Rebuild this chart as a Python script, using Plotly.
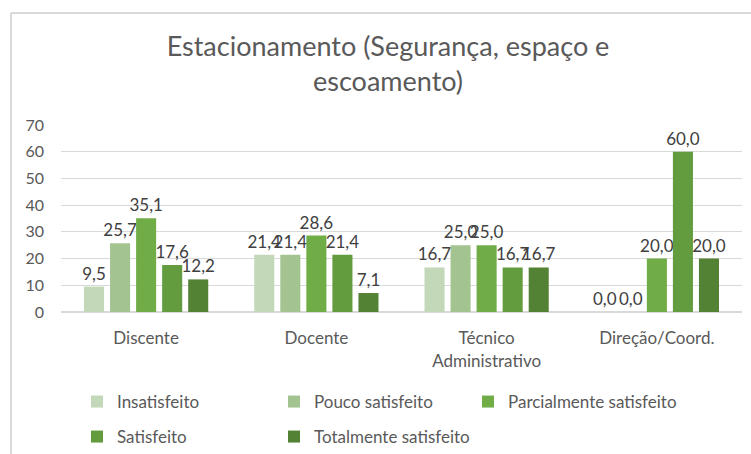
import plotly.graph_objects as go

categories = ["Discente", "Docente", "Técnico<br>Administrativo", "Direção/Coord."]
series_names = ["Insatisfeito", "Pouco satisfeito", "Parcialmente satisfeito",
                "Satisfeito", "Totalmente satisfeito"]
insatisfeito = [9.5, 21.4, 16.7, 0.0]
pouco = [25.7, 21.4, 25.0, 0.0]
parcial = [35.1, 28.6, 25.0, 20.0]
satisfeito = [17.6, 21.4, 16.7, 60.0]
totalmente = [12.2, 7.1, 16.7, 20.0]
series_values = [insatisfeito, pouco, parcial, satisfeito, totalmente]
colors = ["#C3D8B8", "#A3C490", "#70AD47", "#629C3E", "#548235"]
y_ticks = [0, 10, 20, 30, 40, 50, 60, 70]
legend_groups = ["legend", "legend", "legend3", "legend2", "legend2"]

FONT = "Lato"
W, H = 751, 454
ML, MR, MT, MB = 61, 9, 125, 142

fig = go.Figure()
for name, vals, col, lg in zip(series_names, series_values, colors, legend_groups):
    fig.add_trace(go.Bar(
        x=categories, y=vals, name=name, marker_color=col, marker_line_width=0,
        text=[f"{v:.1f}".replace(".", ",") for v in vals],
        textposition="outside", constraintext="none", cliponaxis=False,
        textfont=dict(family=FONT, size=17, color="#404040"),
        legend=lg, hoverinfo="skip",
    ))

legend_common = dict(
    orientation="h", xref="container", yref="container", xanchor="left", yanchor="middle",
    font=dict(family=FONT, size=17, color="#595959"),
    itemwidth=30, bgcolor="rgba(0,0,0,0)", traceorder="normal",
)

pw = W - ML - MR
ph = H - MT - MB

fig.update_layout(
    width=W, height=H,
    margin=dict(l=ML, r=MR, t=MT, b=MB, pad=0),
    paper_bgcolor="white", plot_bgcolor="white",
    barmode="group", bargap=0.235, bargroupgap=0.23,
    title=dict(text="Estacionamento (Segurança, espaço e<br>escoamento)",
               x=(388) / W, xanchor="center", xref="container",
               y=1 - 56 / H, yanchor="middle",
               font=dict(family=FONT, size=27, color="#595959")),
    font=dict(family=FONT, color="#595959"),
    xaxis=dict(showgrid=False, showline=True, linecolor="#D9D9D9", linewidth=1,
               ticks="", tickfont=dict(family=FONT, size=17, color="#595959"),
               ticklabelstandoff=11),
    yaxis=dict(range=[0, 70], tickvals=y_ticks, showgrid=True, gridcolor="#D9D9D9",
               gridwidth=1, zeroline=True, zerolinecolor="#D9D9D9", showline=False,
               ticks="", tickfont=dict(family=FONT, size=16, color="#595959"),
               ticklabelstandoff=16),
    legend=dict(x=77 / W, y=1 - 402 / H, entrywidth=152, entrywidthmode="pixels",
                **legend_common),
    legend2=dict(x=77 / W, y=1 - 437 / H, entrywidth=152, entrywidthmode="pixels",
                 **legend_common),
    legend3=dict(x=(77 + 2 * 196 - 1) / W, y=1 - 402 / H, **legend_common),
    showlegend=True,
    shapes=[
        dict(type="line", xref="paper", yref="paper",
             x0=(11 - ML) / pw, x1=(W + 5 - ML) / pw,
             y0=1 + (MT - 13) / ph, y1=1 + (MT - 13) / ph,
             line=dict(color="#D9D9D9", width=2)),
        dict(type="line", xref="paper", yref="paper",
             x0=(11 - ML) / pw, x1=(11 - ML) / pw,
             y0=1 + (MT - 13) / ph, y1=-(MB + 5) / ph,
             line=dict(color="#D9D9D9", width=2)),
    ],
)

fig.write_html("out.html", config={"displayModeBar": False},
               post_script="document.body.style.margin='0';")
